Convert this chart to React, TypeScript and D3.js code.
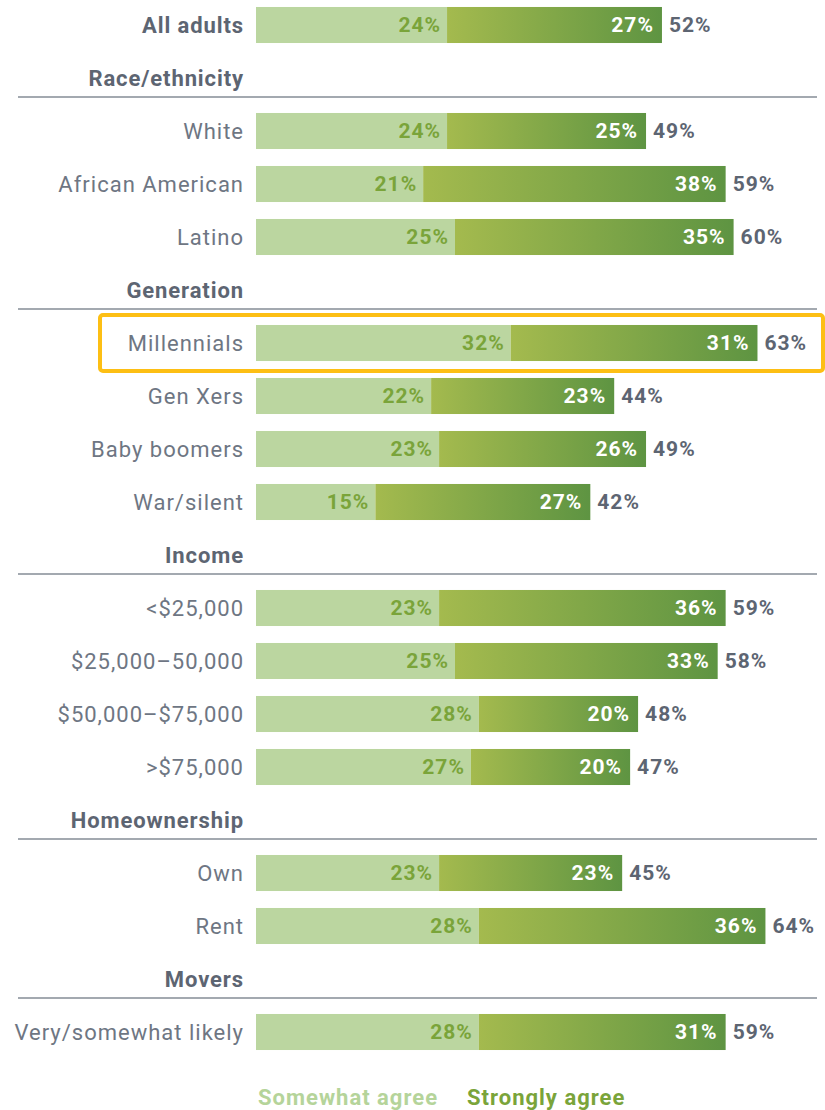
import React from "react";
import * as d3 from "d3";

const rowLabels = [
  "All adults", "Race/ethnicity", "White", "African American", "Latino",
  "Generation", "Millennials", "Gen Xers", "Baby boomers", "War/silent",
  "Income", "<$25,000", "$25,000–50,000", "$50,000–$75,000", ">$75,000",
  "Homeownership", "Own", "Rent", "Movers", "Very/somewhat likely",
];
const headerRows = ["Race/ethnicity", "Generation", "Income", "Homeownership", "Movers"];
const barCategories = [
  "All adults", "White", "African American", "Latino",
  "Millennials", "Gen Xers", "Baby boomers", "War/silent",
  "<$25,000", "$25,000–50,000", "$50,000–$75,000", ">$75,000",
  "Own", "Rent", "Very/somewhat likely",
];
const somewhatAgree = [24, 24, 21, 25, 32, 22, 23, 15, 23, 25, 28, 27, 23, 28, 28];
const stronglyAgree = [27, 25, 38, 35, 31, 23, 26, 27, 36, 33, 20, 20, 23, 36, 31];
const totals = [52, 49, 59, 60, 63, 44, 49, 42, 59, 58, 48, 47, 45, 64, 59];
const highlighted = "Millennials";
const legendLabels = ["Somewhat agree", "Strongly agree"];

const W = 825, H = 1110;
const FONT = "Roboto, 'DejaVu Sans', sans-serif";

export default function App() {
  const y = d3.scaleBand<string>().domain(rowLabels).range([-1.5, 53 * rowLabels.length - 1.5]).paddingInner(0.32).paddingOuter(0.16);
  const x = d3.scaleLinear().domain([0, 70]).range([256, 256 + 70 * 7.96]);
  const bh = y.bandwidth();
  const labelGray = "#6e7683";
  const headGray = "#5d6572";

  return (
    <svg width={W} height={H} style={{ position: "absolute", left: 0, top: 0 }} fontFamily={FONT}>
      <defs>
        <linearGradient id="strong" x1="0" x2="1" y1="0" y2="0">
          <stop offset="0%" stopColor="#a4ba4e" />
          <stop offset="100%" stopColor="#5e9442" />
        </linearGradient>
      </defs>
      <rect width={W} height={H} fill="#fff" />
      {rowLabels.map((r) => {
        const cy = (y(r) as number) + bh / 2;
        if (headerRows.includes(r)) {
          return (
            <g key={r}>
              <text x={244} y={cy} dy="0.35em" textAnchor="end" fontSize={22} letterSpacing={0.9} fontWeight="bold" fill={headGray}>{r}</text>
              <line x1={18} x2={817} y1={cy + 19} y2={cy + 19} stroke="#a3a9b0" strokeWidth={2} />
            </g>
          );
        }
        return null;
      })}
      {barCategories.map((c, i) => {
        const top = y(c) as number;
        const cy = top + bh / 2;
        const s = somewhatAgree[i], g = stronglyAgree[i];
        const x0 = x(0), x1 = x(s), x2 = x(s + g);
        const isHead = c === "All adults";
        return (
          <g key={c}>
            {c === highlighted && (
              <rect x={100} y={top - 10} width={723} height={bh + 20} rx={3} fill="none" stroke="#fdbf14" strokeWidth={4} />
            )}
            <text x={244} y={cy} dy="0.35em" textAnchor="end" fontSize={22} letterSpacing={isHead ? 0.9 : 1.0} fontWeight={isHead ? "bold" : "normal"} fill={isHead ? headGray : labelGray}>{c}</text>
            <rect x={x0} y={top} width={x1 - x0} height={bh} fill="#bbd6a0" />
            <rect x={x1} y={top} width={x2 - x1} height={bh} fill="url(#strong)" />
            <text x={x1 - 6} y={cy} dy="0.35em" textAnchor="end" fontSize={21} letterSpacing={1} fontWeight="bold" fill="#7aa43a">{s}%</text>
            <text x={x2 - 8} y={cy} dy="0.35em" textAnchor="end" fontSize={21} letterSpacing={1} fontWeight="bold" fill="#fff">{g}%</text>
            <text x={x2 + 7} y={cy} dy="0.35em" textAnchor="start" fontSize={21} letterSpacing={1} fontWeight="bold" fill={headGray}>{totals[i]}%</text>
          </g>
        );
      })}
      <text x={258} y={1097} dy="0.35em" fontSize={22} letterSpacing={1} fontWeight="bold" fill="#b5d49a">{legendLabels[0]}</text>
      <text x={467} y={1097} dy="0.35em" fontSize={22} letterSpacing={1} fontWeight="bold" fill="#7aa43a">{legendLabels[1]}</text>
    </svg>
  );
}
